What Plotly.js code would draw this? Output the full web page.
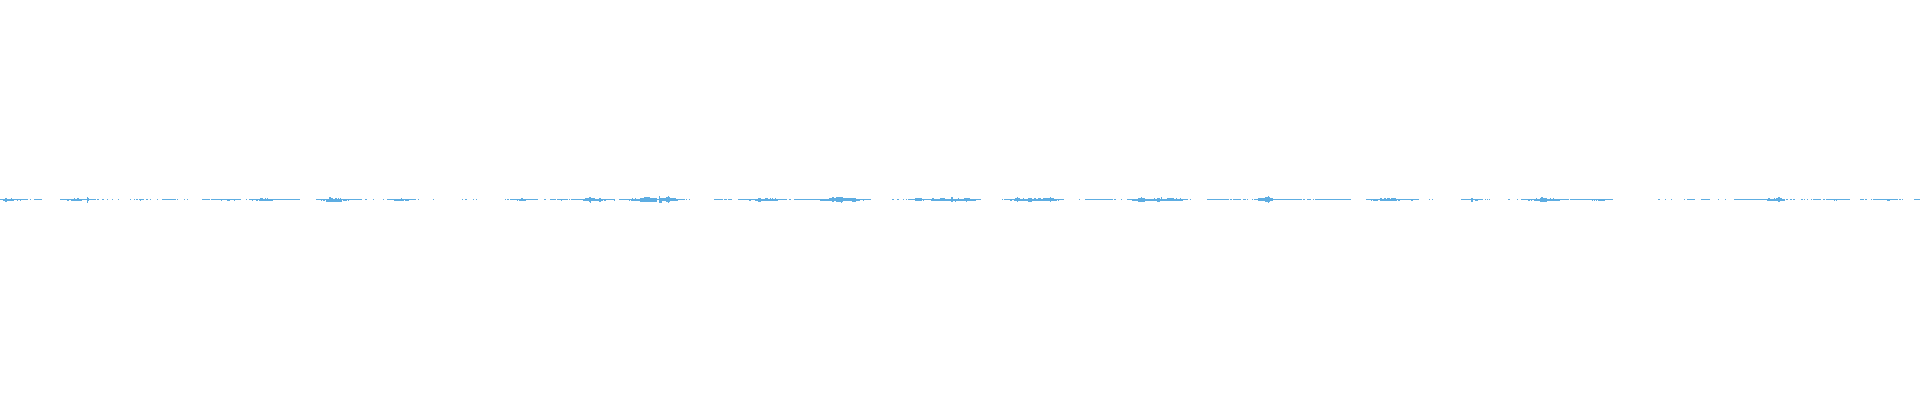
<!DOCTYPE html>
<html><head><meta charset="utf-8">
<script src="https://cdn.plot.ly/plotly-3.0.1.min.js"></script>
<style>html,body{margin:0;padding:0;background:#fff}#c{width:1920px;height:400px}</style></head>
<body><div id="c"></div>
<script>
// Continuous stretches of the signal at its resting level (start, end along the time axis)
const runStart=[0,30,34,60,97,102,107,112,118,130,134,136,139,146,150,157,162,177,184,187,202,211,246,249,316,
320,365,373,383,387,418,433,462,465,473,476,505,507,510,544,550,557,569,571,619,
640,686,689,714,724,728,738,789,794,892,897,903,906,908,
1002,1004,1079,1085,1114,1121,1127,1190,1207,1230,1233,1243,1247,1252,1254,
1303,1307,1313,1315,1366,1429,1432,1461,1485,1487,1489,1508,1517,1521,1570,
1658,1665,1671,1684,1687,1701,1718,1725,1734,1786,1790,1793,1801,1804,1807,1811,1813,1823,1826,1860,1865,1871,1873,1899,1902,1914];
const runEnd=[28,31,42,96,99,104,108,113,119,131,135,138,144,148,151,158,176,178,185,188,210,241,247,300,320,
362,367,374,384,416,419,434,463,467,474,477,506,509,538,546,556,568,570,615,640,
685,687,690,723,727,732,787,791,871,894,899,904,907,981,
1003,1064,1080,1113,1116,1122,1188,1191,1229,1232,1241,1246,1248,1253,1302,
1305,1311,1314,1351,1419,1430,1433,1483,1486,1488,1490,1510,1518,1569,1613,
1660,1666,1672,1685,1695,1710,1719,1726,1785,1788,1792,1795,1803,1805,1808,1812,1821,1825,1850,1864,1867,1872,1898,1901,1903,1920];
// Louder passages: start, end, peak above and below the resting level
const burstStart=[3,5,11,17,20,67,71,74,77,87,88,140,221,227,234,252,256,259,260,265,267,
321,323,326,329,331,335,338,340,343,348,394,401,405,517,519,521,561,583,585,589,590,599,604,614,629,631,632,635,
640,644,659,660,662,666,668,670,676,749,755,758,765,770,772,775,820,829,832,836,841,852,863,915,923,931,932,940,951,955,958,
960,964,966,1010,1014,1015,1017,1023,1028,1034,1038,1043,1050,1058,1132,1138,1141,1154,1157,1161,1167,1176,1180,1258,1265,1268,
1371,1373,1380,1382,1384,1387,1391,1394,1398,1411,1471,1475,1528,1531,1534,1536,1540,1541,1550,1553,1558,1592,1594,1596,1598,
1600,1767,1768,1774,1776,1778,1834,1836,1887];
const burstEnd=[14,7,12,18,21,69,82,75,79,88,89,141,222,230,235,253,258,273,263,266,268,
322,325,342,331,333,337,339,341,347,349,404,402,409,518,526,523,562,603,595,591,591,601,606,615,630,640,633,636,
657,650,660,662,666,670,669,676,678,751,778,761,768,771,773,776,860,853,834,843,842,856,864,922,924,960,934,945,953,956,959,
976,970,967,1012,1057,1020,1018,1024,1032,1036,1041,1054,1051,1059,1183,1145,1142,1155,1160,1162,1174,1177,1181,1273,1270,1269,
1372,1378,1382,1397,1386,1390,1394,1396,1400,1413,1473,1478,1530,1532,1560,1537,1547,1543,1551,1554,1560,1593,1595,1597,1600,
1605,1785,1770,1775,1782,1780,1835,1837,1890];
const burstUp=[0,1,1,0,0,0,0,1,1,2,1,0,0,0,0,0,0,0,1,1,1,
0,0,0,2,1,1,1,1,0,0,0,1,0,0,0,1,0,0,1,2,2,1,0,0,0,0,1,1,
1,2,3,1,1,2,3,1,0,0,0,1,1,1,1,1,0,1,2,2,2,1,0,1,0,0,1,1,2,0,1,
0,1,1,0,0,1,2,1,1,1,1,1,2,0,0,1,2,1,1,2,1,1,1,1,2,3,
0,0,1,0,1,1,1,1,0,0,1,0,0,0,0,1,1,2,1,1,0,0,0,0,0,
0,0,1,1,1,2,0,0,0];
const burstDown=[1,2,0,1,1,1,1,1,1,3,1,1,1,1,1,1,1,1,1,1,1,
1,1,2,1,2,1,1,0,1,1,1,1,1,1,1,1,1,1,1,2,3,2,1,1,1,1,1,1,
2,1,3,3,1,2,3,1,1,1,1,2,0,0,0,0,1,1,2,2,3,2,1,1,1,1,0,0,2,2,0,
1,1,2,1,1,0,2,0,2,0,0,1,2,1,1,2,1,0,2,1,1,0,0,1,2,3,
1,1,1,1,0,0,1,0,1,1,2,1,1,1,1,0,2,2,0,0,1,1,1,1,1,
1,1,1,1,1,2,1,1,1];

const signalColor='#5DADE2';
const starts=runStart.concat(burstStart), ends=runEnd.concat(burstEnd);
const ups=runStart.map(()=>0).concat(burstUp), downs=runStart.map(()=>0).concat(burstDown);
Plotly.newPlot('c',[{
  type:'bar',
  x:starts.map((s,i)=>(s+ends[i])/2),
  width:starts.map((s,i)=>ends[i]-s),
  base:downs.map(d=>-d),
  y:ups.map((u,i)=>1+u+downs[i]),
  marker:{color:signalColor,line:{width:0}},
  hoverinfo:'skip'
}],{
  width:1920,height:400,margin:{l:0,r:0,t:0,b:0,pad:0},
  paper_bgcolor:'#fff',plot_bgcolor:'#fff',showlegend:false,barmode:'overlay',
  xaxis:{range:[0,1920],visible:false,fixedrange:true},
  yaxis:{range:[-200,200],visible:false,fixedrange:true}
},{displayModeBar:false,staticPlot:true});
</script></body></html>
